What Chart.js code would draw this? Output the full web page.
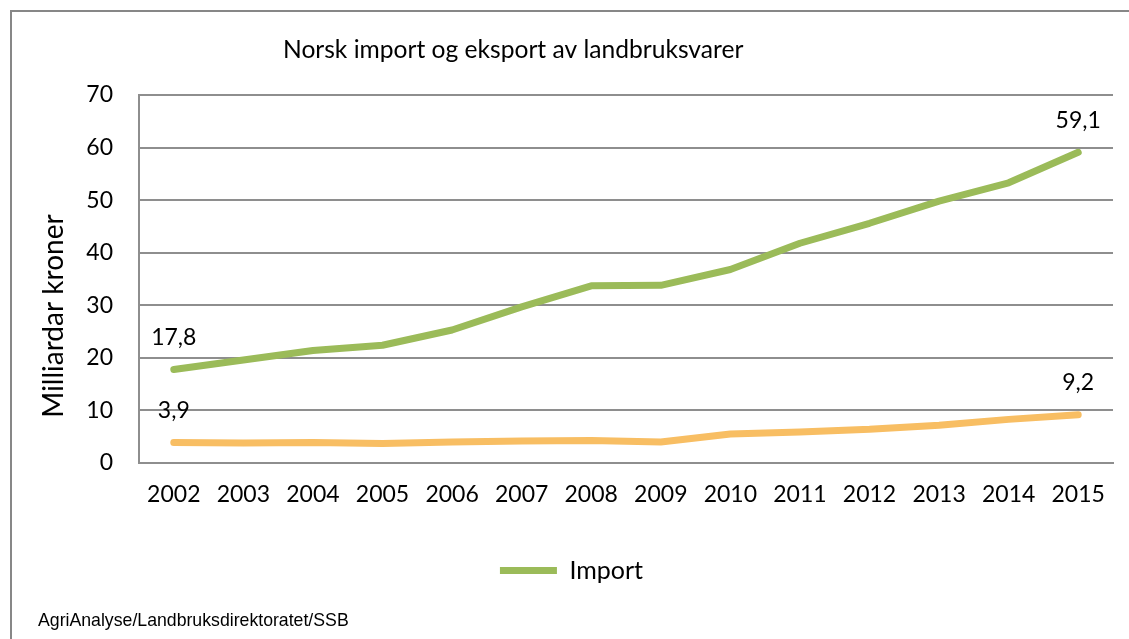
<!DOCTYPE html>
<html>
<head>
  <title>Norsk import og eksport av landbruksvarer</title>
  <script src="https://cdn.jsdelivr.net/npm/chart.js"></script>
  <style>
    body { margin: 0; background: #fff; }
    #frame { position: absolute; left: 10px; top: 10px; width: 1129px; height: 639px;
             border-left: 2px solid #878787; border-top: 2px solid #878787; }
    #wrap { position: absolute; left: 0; top: 0; width: 1129px; height: 639px; }
  </style>
</head>
<body>
  <div id="frame"></div>
  <div id="wrap"><canvas id="agriChart" width="1129" height="639"></canvas></div>

  <script>
    // data
    const years = ['2002', '2003', '2004', '2005', '2006', '2007', '2008',
                   '2009', '2010', '2011', '2012', '2013', '2014', '2015'];
    const importValues = [17.8, 19.6, 21.4, 22.4, 25.3, 29.7, 33.7, 33.8, 36.8, 41.8, 45.6, 49.8, 53.3, 59.1];
    const exportValues = [3.9, 3.8, 3.9, 3.7, 4.0, 4.2, 4.3, 4.0, 5.5, 5.9, 6.4, 7.2, 8.3, 9.2];
    const yTicks = [0, 10, 20, 30, 40, 50, 60, 70];

    const chartTitle = 'Norsk import og eksport av landbruksvarer';
    const yTitle = 'Milliardar kroner';
    const source = 'AgriAnalyse/Landbruksdirektoratet/SSB';

    const tickFont = { family: 'Lato', size: 23 };
    const gridColor = '#8e8e8e';

    // title, axis title, source line and first/last value labels
    const extras = {
      id: 'extras',
      afterDatasetsDraw(chart) {
        const ctx = chart.ctx;
        ctx.save();
        ctx.fillStyle = '#000';
        ctx.textBaseline = 'middle';

        ctx.font = '24.6px Lato';
        ctx.textAlign = 'left';
        ctx.fillText(chartTitle, 283, 50);

        ctx.font = '17.7px "Liberation Sans"';
        ctx.fillText(source, 38, 621);

        ctx.save();
        ctx.translate(54, 316);
        ctx.rotate(-Math.PI / 2);
        ctx.textAlign = 'center';
        ctx.font = '28px Lato';
        ctx.fillText(yTitle, 0, 0);
        ctx.restore();

        ctx.font = '23px Lato';
        ctx.textAlign = 'center';
        chart.data.datasets.forEach((ds, i) => {
          const meta = chart.getDatasetMeta(i);
          const last = ds.data.length - 1;
          [0, last].forEach(j => {
            const pt = meta.data[j];
            ctx.fillText(ds.data[j].toFixed(1).replace('.', ','), pt.x, pt.y - 32);
          });
        });
        ctx.restore();
      }
    };

    const ctx = document.getElementById('agriChart').getContext('2d');
    new Chart(ctx, {
      type: 'line',
      data: {
        labels: years,
        datasets: [
          {
            label: 'Import',
            data: importValues,
            borderColor: '#9bbb59',
            backgroundColor: '#9bbb59',
            borderWidth: 7,
            borderCapStyle: 'round',
            borderJoinStyle: 'round',
            pointRadius: 0,
            tension: 0
          },
          {
            label: 'Eksport',
            data: exportValues,
            borderColor: '#f8be63',
            backgroundColor: '#f8be63',
            borderWidth: 7,
            borderCapStyle: 'round',
            borderJoinStyle: 'round',
            pointRadius: 0,
            tension: 0
          }
        ]
      },
      options: {
        responsive: false,
        animation: false,
        layout: { padding: { left: 30, right: 16, top: 95, bottom: 46 } },
        plugins: {
          tooltip: { enabled: false },
          legend: {
            position: 'bottom',
            labels: {
              filter: item => item.text === 'Import',
              usePointStyle: true,
              pointStyle: 'line',
              pointStyleWidth: 57,
              color: '#000',
              font: { family: 'Lato', size: 25 }
            }
          }
        },
        scales: {
          x: {
            offset: true,
            grid: { display: false, drawTicks: false },
            border: { color: gridColor, width: 2 },
            ticks: { color: '#000', font: tickFont, padding: 18, maxRotation: 0 },
            afterFit(scale) { scale.height = 85; }
          },
          y: {
            min: 0,
            max: 70,
            afterBuildTicks(scale) { scale.ticks = yTicks.map(v => ({ value: v })); },
            grid: { color: gridColor, lineWidth: 2, drawTicks: false },
            border: { color: gridColor, width: 2 },
            ticks: { color: '#000', font: tickFont, padding: 26 },
            afterFit(scale) { scale.width = 109; }
          }
        }
      },
      plugins: [extras]
    });
  </script>
</body>
</html>
